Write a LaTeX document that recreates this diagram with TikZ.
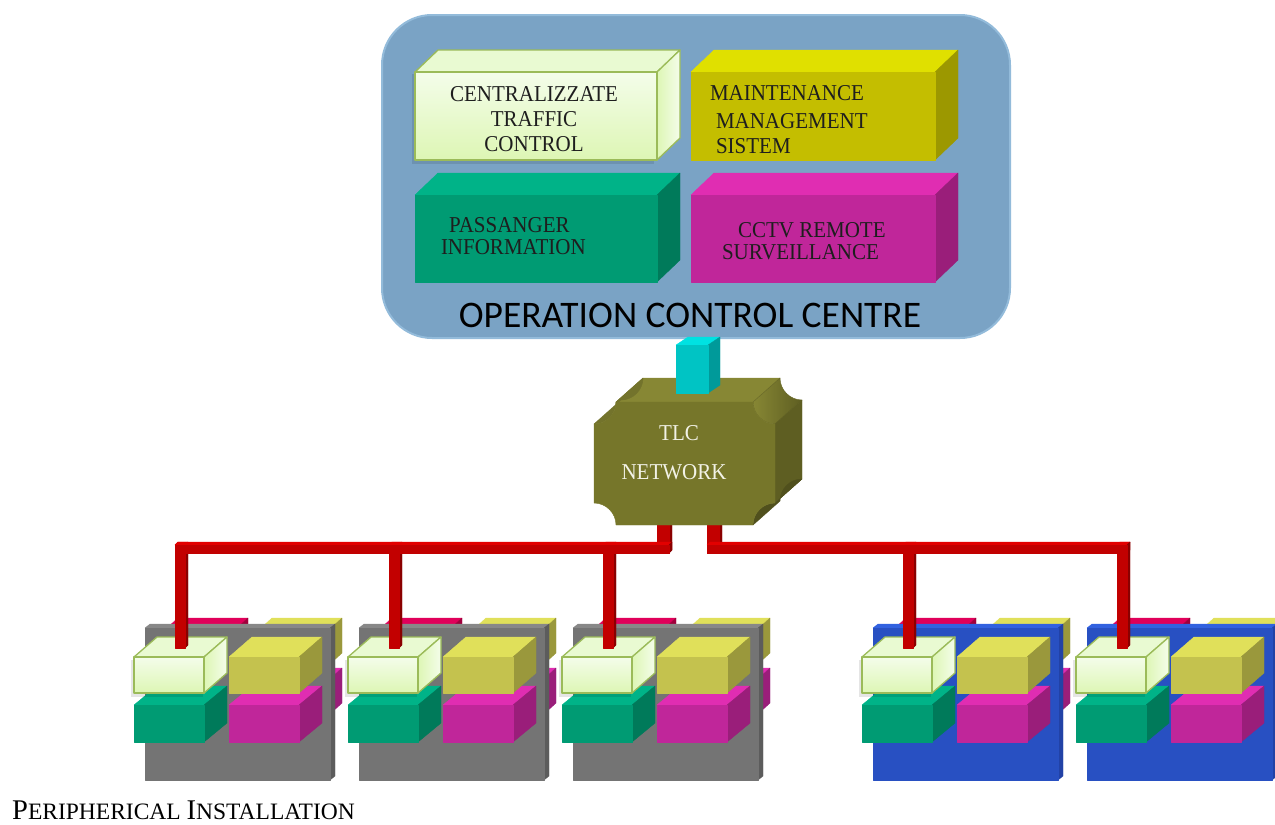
\documentclass[tikz,border=0pt]{standalone}
\usepackage{graphicx}
\usepackage{fontspec}
\setmainfont{Liberation Serif}
\newfontfamily\occfont{Carlito}
\newcommand\vst[1]{\scalebox{1}[1.08]{#1}}

\definecolor{occbg}{HTML}{7AA3C5}
\definecolor{occedge}{HTML}{93BBDA}
\definecolor{ctcT}{HTML}{F4FDEA}
\definecolor{ctcB}{HTML}{DDF6B4}
\definecolor{ctcTop}{HTML}{E9FAD2}
\definecolor{ctcL}{HTML}{9BBB59}
\definecolor{mmsF}{HTML}{C4BE00}
\definecolor{mmsT}{HTML}{E0E000}
\definecolor{mmsS}{HTML}{9C9800}
\definecolor{grnF}{HTML}{009B73}
\definecolor{grnT}{HTML}{00B388}
\definecolor{grnS}{HTML}{007A5A}
\definecolor{magF}{HTML}{C0269A}
\definecolor{magT}{HTML}{E02DB2}
\definecolor{magS}{HTML}{9A1E7A}
\definecolor{yelF}{HTML}{C4C24E}
\definecolor{yelT}{HTML}{E0E05A}
\definecolor{yelS}{HTML}{9A983C}
\definecolor{crimF}{HTML}{C0004C}
\definecolor{crimT}{HTML}{E0005A}
\definecolor{crimS}{HTML}{A0003C}
\definecolor{gpanF}{HTML}{747474}
\definecolor{gpanT}{HTML}{888888}
\definecolor{gpanS}{HTML}{5C5C5C}
\definecolor{bpanF}{HTML}{2850C2}
\definecolor{bpanT}{HTML}{3262E0}
\definecolor{bpanS}{HTML}{2242A6}
\definecolor{busF}{HTML}{C20000}
\definecolor{busT}{HTML}{E20000}
\definecolor{busS}{HTML}{8A0000}
\definecolor{cyF}{HTML}{00C4C4}
\definecolor{cyT}{HTML}{00E2E2}
\definecolor{cyS}{HTML}{009A9A}
\definecolor{tlcF}{HTML}{76762A}
\definecolor{tlcT}{HTML}{878734}
\definecolor{tlcS}{HTML}{5E5E22}
\definecolor{txt}{HTML}{1E1E1E}
\definecolor{tlctxt}{HTML}{F2F2E6}

\tikzset{
  face/.style={fill=#1, draw=#1, line width=.4pt, line join=round},
  ctc front/.style={top color=ctcT, bottom color=ctcB, draw=ctcL, line width=1.3pt, line join=round},
  ctc top/.style={fill=ctcTop, draw=ctcL, line width=1.3pt, line join=round},
  ctc side/.style={left color=ctcB, right color=ctcT, draw=ctcL, line width=1.3pt, line join=round},
  mms front/.style={face=mmsF}, mms top/.style={face=mmsT}, mms side/.style={face=mmsS},
  grn front/.style={face=grnF}, grn top/.style={face=grnT}, grn side/.style={face=grnS},
  mag front/.style={face=magF}, mag top/.style={face=magT}, mag side/.style={face=magS},
  yel front/.style={face=yelF}, yel top/.style={face=yelT}, yel side/.style={face=yelS},
  crim front/.style={face=crimF}, crim top/.style={face=crimT}, crim side/.style={face=crimS},
  gpan front/.style={face=gpanF}, gpan top/.style={face=gpanT}, gpan side/.style={face=gpanS},
  bpan front/.style={face=bpanF}, bpan top/.style={face=bpanT}, bpan side/.style={face=bpanS},
  bus front/.style={face=busF}, bus top/.style={face=busT}, bus side/.style={face=busS},
  cy front/.style={face=cyF}, cy top/.style={face=cyT}, cy side/.style={face=cyS},
  lbl/.style={inner sep=0pt, outer sep=0pt, text=txt, font=\fontsize{21}{25}\selectfont},
  tlclbl/.style={inner sep=0pt, outer sep=0pt, text=tlctxt, font=\fontsize{21}{25}\selectfont},
  boxshadow/.style={fill=black, opacity=.10},
}

% x y w h dx dy style  (pixel coordinates, y downwards)
\newcommand\cuboid[7]{%
  \path[#7 top] ({#1},{#2}) -- ++({#5},{-(#6)}) -- ++({#3},0) -- ++({-(#5)},{#6}) -- cycle;
  \path[#7 side] ({#1+#3},{#2}) -- ++({#5},{-(#6)}) -- ++(0,{#4}) -- ++({-(#5)},{#6}) -- cycle;
  \path[#7 front] ({#1},{#2}) rectangle ++({#3},{#4});
}

% panel left x, panel style
\newcommand\cluster[2]{%
  \cuboid{#1+11}{638}{70}{35}{22}{20}{crim}
  \cuboid{#1+105}{638}{70}{35}{22}{20}{yel}
  \cuboid{#1+105}{688}{70}{35}{22}{20}{mag}
  \cuboid{#1}{628}{185}{152}{5}{4}{#2}
  \cuboid{#1-11}{705}{70}{37}{23}{19}{grn}
  \cuboid{#1+84}{705}{70}{37}{23}{19}{mag}
  \path[boxshadow] ({#1-14},{660}) rectangle ++(72,37);
  \cuboid{#1-11}{657}{70}{36}{23}{20}{ctc}
  \cuboid{#1+84}{657}{70}{36}{23}{20}{yel}
}

\begin{document}
\begin{tikzpicture}[x=1pt,y=-1pt]
\useasboundingbox (0,0) rectangle (1275,825);

% Operation control centre
\path[fill=occbg, draw=occedge, line width=2pt, rounded corners=50pt] (382,15) rectangle (1010,338);
\path[boxshadow] (412,74) rectangle ++(242,90);
\cuboid{415}{72}{242}{88}{23}{22}{ctc}
\cuboid{691}{72}{244}{88}{23}{22}{mms}
\cuboid{415}{195}{242}{87}{23}{22}{grn}
\cuboid{691}{195}{244}{87}{23}{22}{mag}

\node[lbl, anchor=base] (ctc1) at (534,101) {\vst{CENTRALIZZATE}};
\node[lbl, anchor=base] (ctc2) at (534,126) {\vst{TRAFFIC}};
\node[lbl, anchor=base] (ctc3) at (534,151) {\vst{CONTROL}};
\node[lbl, anchor=base west] (mms1) at (710,100) {\vst{MAINTENANCE}};
\node[lbl, anchor=base west] (mms2) at (716,128) {\vst{MANAGEMENT}};
\node[lbl, anchor=base west] (mms3) at (716,153) {\vst{SISTEM}};
\node[lbl, anchor=base west] (pis1) at (449,232) {\vst{PASSANGER}};
\node[lbl, anchor=base west] (pis2) at (441,254) {\vst{INFORMATION}};
\node[lbl, anchor=base west] (cctv1) at (738,237) {\vst{CCTV REMOTE}};
\node[lbl, anchor=base west] (cctv2) at (722,259) {\vst{SURVEILLANCE}};
\node[inner sep=0pt, text=black, font=\occfont\fontsize{37.5}{40}\selectfont, anchor=base] (occ) at (690,327) {OPERATION CONTROL CENTRE};

% risers under the TLC network
\cuboid{657}{500}{12}{53}{3}{3}{bus}
\cuboid{707}{500}{12}{53}{3}{3}{bus}

% TLC network block
\path[face=tlcT] (616,402) -- (643,378) -- (780,378) -- (753,402) -- cycle;
\path[face=tlcT!85!black] (594,424) .. controls (606,424) and (616,414) .. (616,402) -- (643,378) .. controls (643,390) and (633,400) .. (621,400) -- cycle;
\path[left color=tlcT, right color=tlcS, draw=tlcS!80!tlcT, line width=.4pt] (753,402) .. controls (753,414) and (763,424) .. (775,424) -- (802,400) .. controls (790,400) and (780,390) .. (780,378) -- cycle;
\path[face=tlcS] (775,424) -- (802,400) -- (802,479) -- (775,503) -- cycle;
\path[face=tlcS!85!black] (775,503) -- (802,479) .. controls (790,479) and (780,489) .. (780,501) -- (753,525) .. controls (753,513) and (763,503) .. (775,503) -- cycle;
\path[face=tlcF] (616,402) -- (753,402) .. controls (753,414) and (763,424) .. (775,424) -- (775,503) .. controls (763,503) and (753,513) .. (753,525) -- (616,525) .. controls (616,513) and (606,503) .. (594,503) -- (594,424) .. controls (606,424) and (616,414) .. (616,402) -- cycle;
\node[tlclbl, anchor=base] (tlc1) at (679,440) {\vst{TLC}};
\node[tlclbl, anchor=base] (tlc2) at (674,479) {\vst{NETWORK}};

% link from the control centre
\cuboid{676}{345}{32}{48}{12}{8}{cy}

% peripheral installations
\cluster{145}{gpan}
\cluster{359}{gpan}
\cluster{573}{gpan}
\cluster{873}{bpan}
\cluster{1087}{bpan}

% drops
\cuboid{175}{545}{10}{103}{3}{3}{bus}
\cuboid{389}{545}{10}{103}{3}{3}{bus}
\cuboid{603}{545}{10}{103}{3}{3}{bus}
\cuboid{903}{545}{10}{103}{3}{3}{bus}
\cuboid{1117}{545}{10}{103}{3}{3}{bus}
% bus bars
\cuboid{175}{545}{494}{8}{3}{3}{bus}
\cuboid{707}{545}{420}{8}{3}{3}{bus}

\node[inner sep=0pt, anchor=base west, text=black] (per) at (12,819)
  {{\fontsize{28.5}{28}\selectfont P}{\fontsize{23.5}{23}\selectfont ERIPHERICAL }{\fontsize{28.5}{28}\selectfont I}{\fontsize{23.5}{23}\selectfont NSTALLATION}};
\end{tikzpicture}
\end{document}
